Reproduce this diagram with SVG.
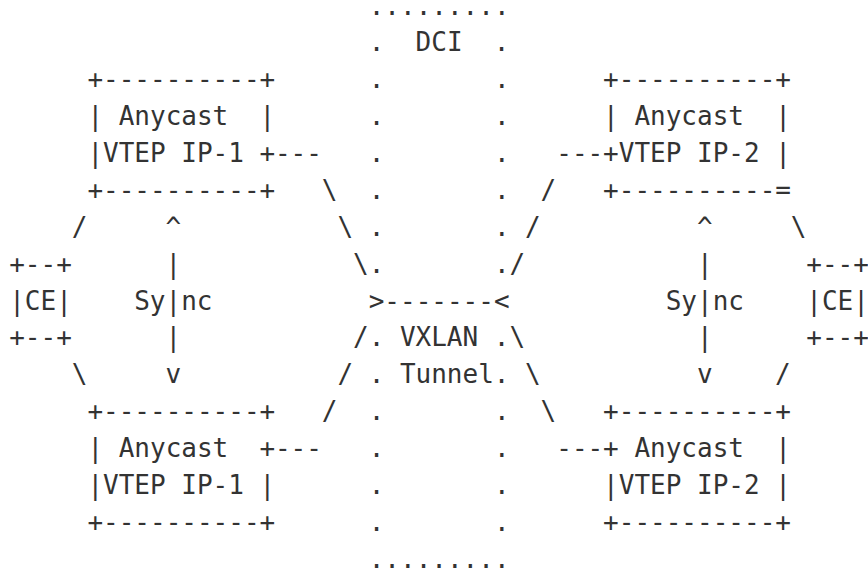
<svg xmlns="http://www.w3.org/2000/svg" width="868" height="574" viewBox="0 0 868 574">
<style>
text{font-family:"DejaVu Sans Mono","Liberation Mono",monospace;font-size:26px;fill:#333;white-space:pre}
</style>
<rect width="868" height="574" fill="#fff"/>
<g id="dci">
<text x="368.7" y="15">.........</text>
<text x="368.7" y="51.2">.</text>
<text x="415.6" y="51.2">DCI</text>
<text x="493.7" y="51.2">.</text>
<text x="368.7" y="88.1" xml:space="preserve">.       .</text>
<text x="368.7" y="125" xml:space="preserve">.       .</text>
<text x="368.7" y="161.9" xml:space="preserve">.       .</text>
<text x="368.7" y="198.8" xml:space="preserve">.       .</text>
<text x="368.7" y="235.7" xml:space="preserve">.       .</text>
<text x="368.7" y="272.6" xml:space="preserve">.       .</text>
<text x="368.7" y="346.4">.</text>
<text x="493.7" y="346.4">.</text>
<text x="368.7" y="383.3">.</text>
<text x="493.7" y="383.3">.</text>
<text x="368.7" y="420.2" xml:space="preserve">.       .</text>
<text x="368.7" y="457.1" xml:space="preserve">.       .</text>
<text x="368.7" y="494" xml:space="preserve">.       .</text>
<text x="368.7" y="530.9" xml:space="preserve">.       .</text>
<text x="368.7" y="567.8">.........</text>
</g>
<g id="vtep1-top">
<text x="87.4" y="88.1">+----------+</text>
<text x="87.4" y="125" xml:space="preserve">| Anycast  |</text>
<text x="87.4" y="161.9" xml:space="preserve">|VTEP IP-1 +</text>
<text x="87.4" y="198.8">+----------+</text>
</g>
<g id="vtep2-top">
<text x="603.1" y="88.1">+----------+</text>
<text x="603.1" y="125" xml:space="preserve">| Anycast  |</text>
<text x="603.1" y="161.9" xml:space="preserve">+VTEP IP-2 |</text>
<text x="603.1" y="198.8">+----------=</text>
</g>
<g id="vtep1-bottom">
<text x="87.4" y="420.2">+----------+</text>
<text x="87.4" y="457.1" xml:space="preserve">| Anycast  +</text>
<text x="87.4" y="494" xml:space="preserve">|VTEP IP-1 |</text>
<text x="87.4" y="530.9">+----------+</text>
</g>
<g id="vtep2-bottom">
<text x="603.1" y="420.2">+----------+</text>
<text x="603.1" y="457.1" xml:space="preserve">+ Anycast  |</text>
<text x="603.1" y="494" xml:space="preserve">|VTEP IP-2 |</text>
<text x="603.1" y="530.9">+----------+</text>
</g>
<g id="ce-left">
<text x="9.2" y="272.6">+--+</text>
<text x="9.2" y="309.5">|CE|</text>
<text x="9.2" y="346.4">+--+</text>
</g>
<g id="ce-right">
<text x="806.3" y="272.6">+--+</text>
<text x="806.3" y="309.5">|CE|</text>
<text x="806.3" y="346.4">+--+</text>
</g>
<g id="vxlan-tunnel">
<text x="399.9" y="346.4">VXLAN</text>
<text x="399.9" y="383.3">Tunnel</text>
</g>
<g id="connectors">
<text x="274.9" y="161.9">---</text>
<text x="556.3" y="161.9">---</text>
<text x="274.9" y="457.1">---</text>
<text x="556.3" y="457.1">---</text>
<text x="321.8" y="198.8">\</text>
<text x="337.4" y="235.7">\</text>
<text x="353.1" y="272.6">\</text>
<text x="353.1" y="346.4">/</text>
<text x="337.4" y="383.3">/</text>
<text x="321.8" y="420.2">/</text>
<text x="540.6" y="198.8">/</text>
<text x="525" y="235.7">/</text>
<text x="509.4" y="272.6">/</text>
<text x="509.4" y="346.4">\</text>
<text x="525" y="383.3">\</text>
<text x="540.6" y="420.2">\</text>
<text x="368.7" y="309.5">&gt;-------&lt;</text>
<text x="71.7" y="235.7">/</text>
<text x="71.7" y="383.3">\</text>
<text x="790.7" y="235.7">\</text>
<text x="775.1" y="383.3">/</text>
<text x="165.5" y="235.7">^</text>
<text x="165.5" y="272.6">|</text>
<text x="134.2" y="309.5">Sy|nc</text>
<text x="165.5" y="346.4">|</text>
<text x="165.5" y="383.3">v</text>
<text x="696.9" y="235.7">^</text>
<text x="696.9" y="272.6">|</text>
<text x="665.7" y="309.5">Sy|nc</text>
<text x="696.9" y="346.4">|</text>
<text x="696.9" y="383.3">v</text>
</g>
</svg>
